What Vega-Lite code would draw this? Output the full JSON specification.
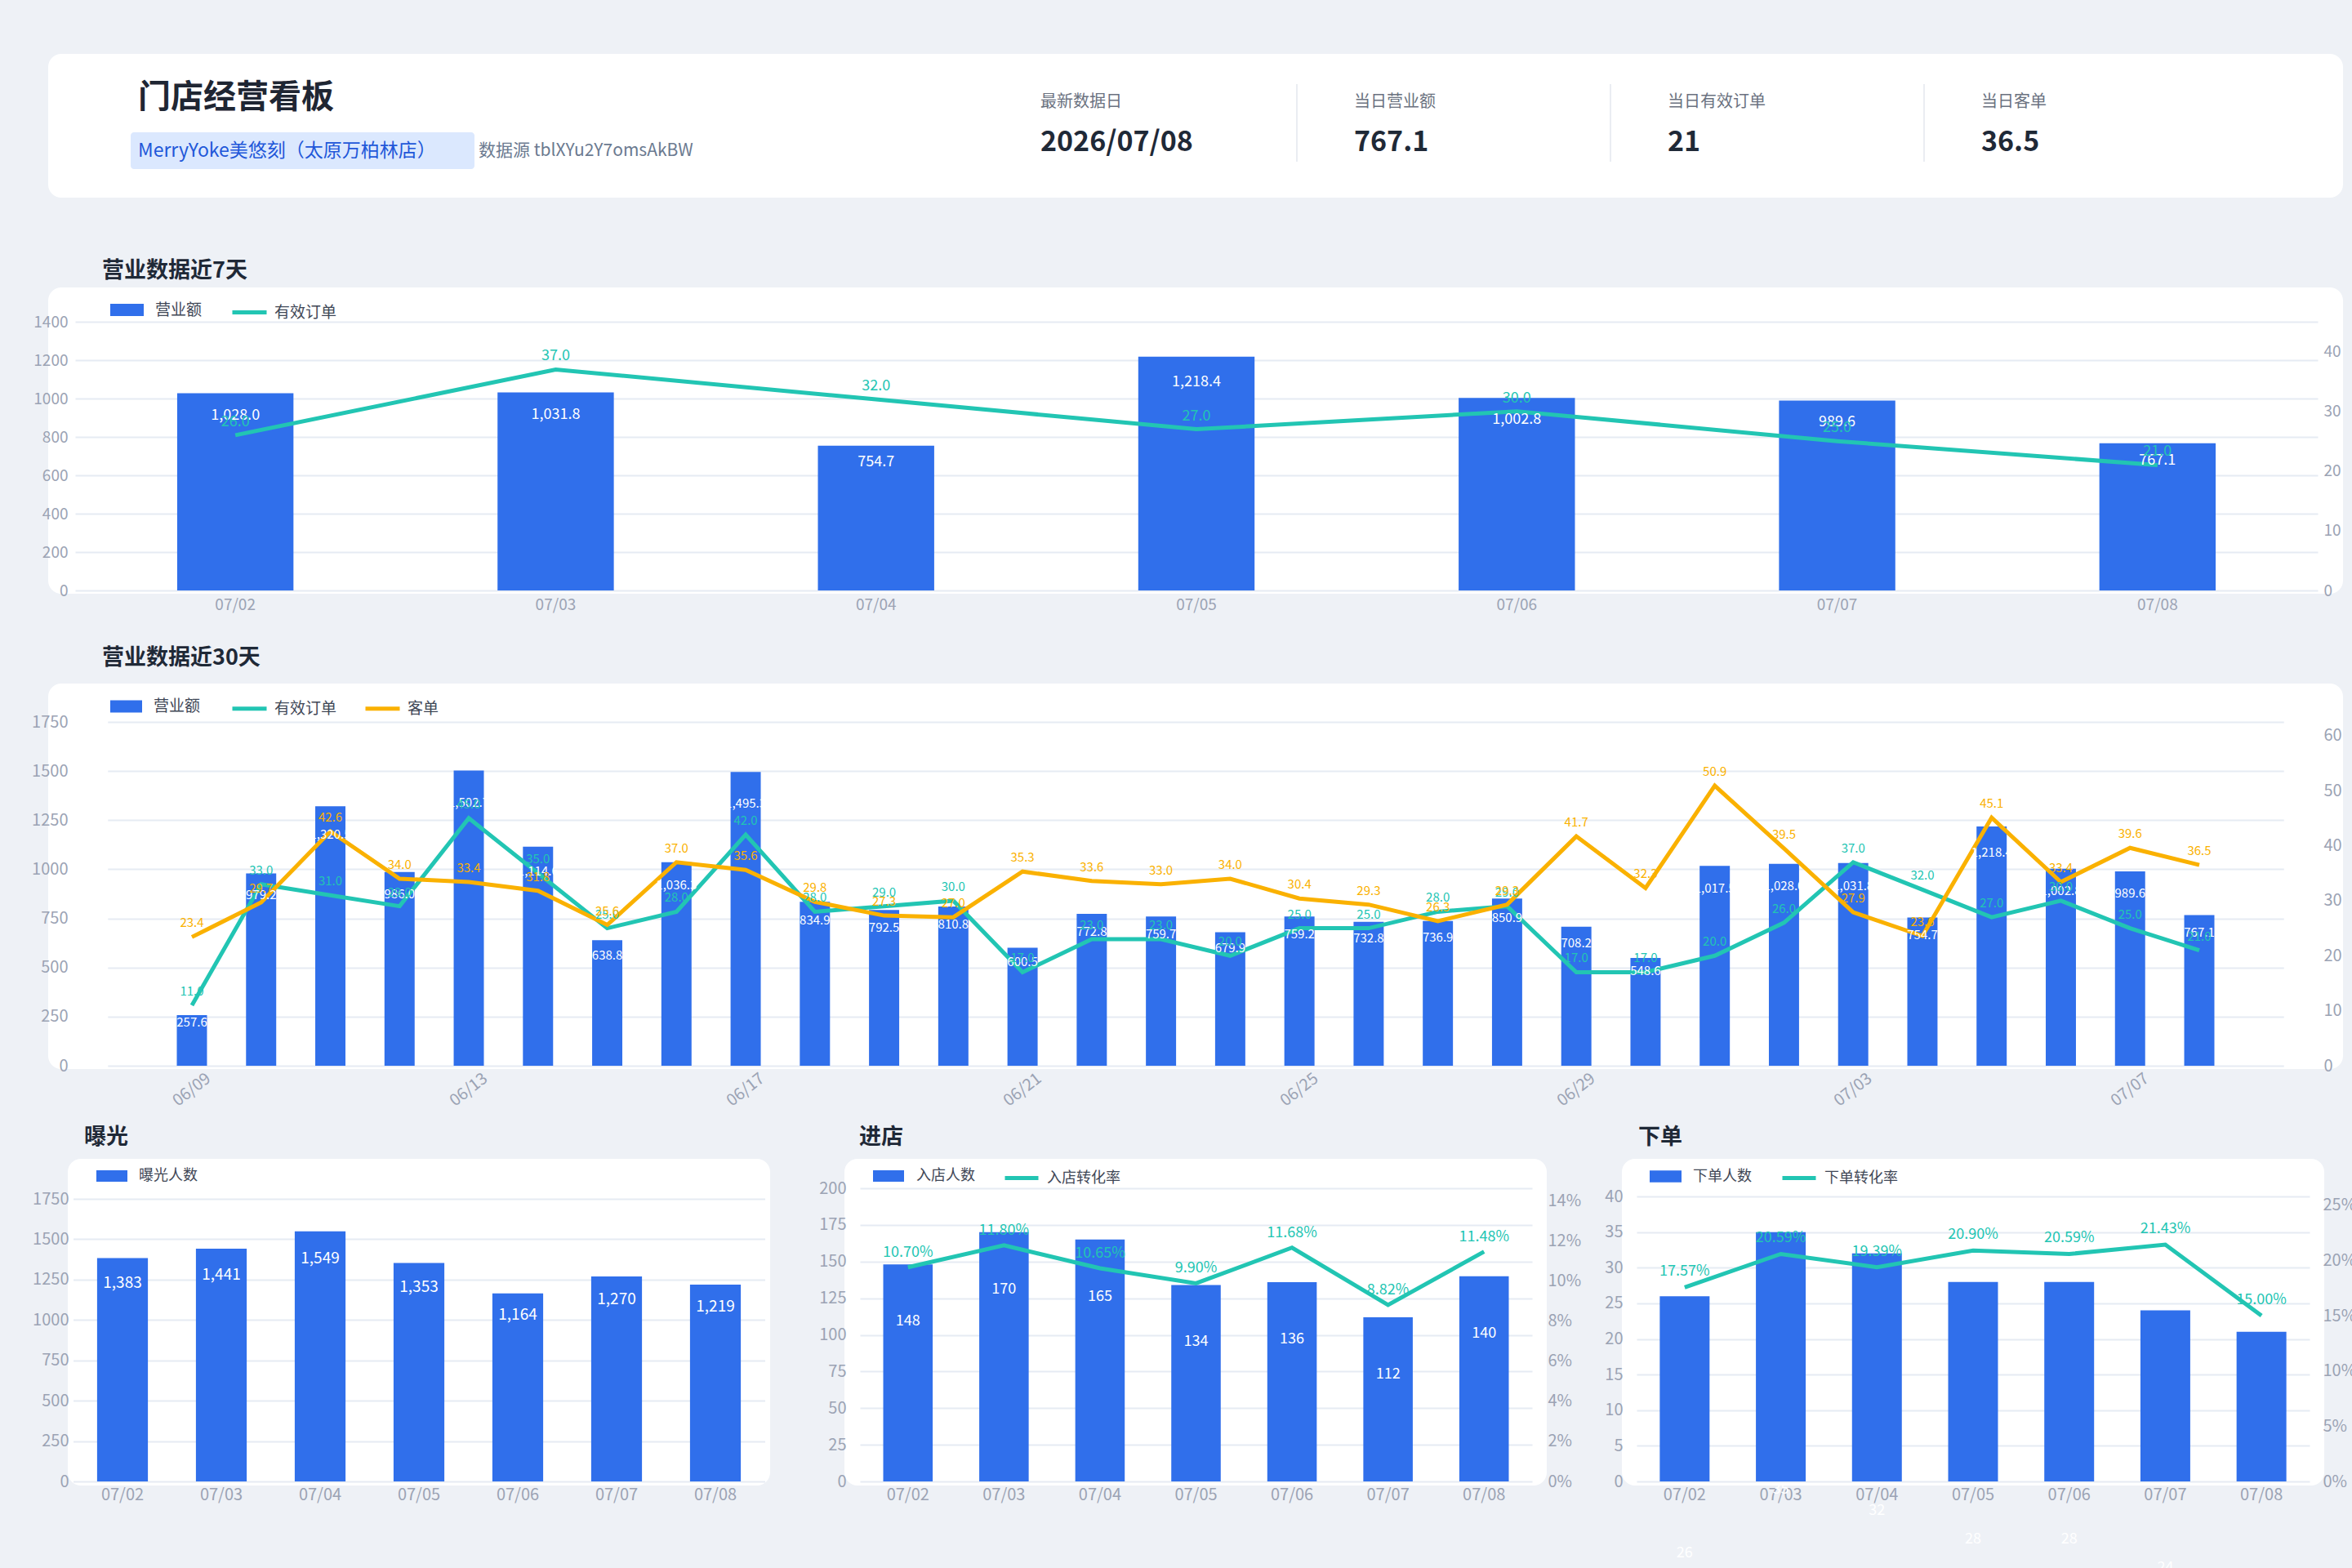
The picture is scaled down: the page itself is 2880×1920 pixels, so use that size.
{
  "$schema": "https://vega.github.io/schema/vega-lite/v6.json",
  "background": "#eef1f6",
  "padding": {"left": 38, "top": 66, "right": 0, "bottom": 0},
  "bounds": "flush",
  "spacing": 110,
  "resolve": {"scale": {"fill": "independent", "stroke": "independent"}, "legend": {"fill": "independent", "stroke": "independent"}},
  "config": {
    "font": "Noto Sans CJK SC",
    "view": {"stroke": null},
    "axis": {"labelFont": "Noto Sans CJK SC", "labelColor": "#9ba3b4", "domain": false, "ticks": false, "gridColor": "#e6ebf3", "gridWidth": 2, "labelOverlap": false},
    "legend": {"padding": 0, "labelFont": "Noto Sans CJK SC", "labelColor": "#3f4756", "labelFontSize": 19},
    "title": {"font": "Noto Sans CJK SC", "fontWeight": "bold", "color": "#1f2937", "anchor": "start", "frame": "group", "fontSize": 27},
    "text": {"font": "Noto Sans CJK SC"}
  },
  "vconcat": [
    {
      "width": 2810, "height": 176,
      "view": {"fill": "#ffffff", "stroke": null, "cornerRadius": 16},
      "layer": [
        {
          "data": {"values": [
            {"block": "name", "line": "top", "text": "门店经营看板"},
            {"block": "name", "line": "bottom", "text": "MerryYoke美悠刻（太原万柏林店）"},
            {"block": "source", "line": "bottom", "text": "数据源 tblXYu2Y7omsAkBW"}
          ]},
          "encoding": {
            "x": {"field": "block", "type": "nominal", "scale": {"type": "point", "domain": ["name", "source"], "range": [110, 527], "padding": 0}, "axis": null},
            "y": {"field": "line", "type": "nominal", "scale": {"type": "point", "domain": ["top", "bottom"], "range": [59, 109], "padding": 0}, "axis": null}
          },
          "layer": [
            {"transform": [{"filter": "datum.block === 'name' && datum.line === 'bottom'"}],
             "mark": {"type": "rect", "fill": "#dbe8fe", "cornerRadius": 4, "xOffset": -9, "x2Offset": -5, "yOffset": -13, "y2Offset": 32},
             "encoding": {"x2": {"datum": "source"}, "y2": {"datum": "bottom"}}},
            {"transform": [{"filter": "datum.line === 'top'"}],
             "mark": {"type": "text", "align": "left", "baseline": "middle", "fontSize": 40, "fontWeight": "bold", "fill": "#1f2633", "dy": -5},
             "encoding": {"text": {"field": "text"}}},
            {"transform": [{"filter": "datum.block === 'name' && datum.line === 'bottom'"}],
             "mark": {"type": "text", "align": "left", "baseline": "middle", "fontSize": 23, "fill": "#2157d9", "dy": 10},
             "encoding": {"text": {"field": "text"}}},
            {"transform": [{"filter": "datum.block === 'source'"}],
             "mark": {"type": "text", "align": "left", "baseline": "middle", "fontSize": 21, "fill": "#6b7a90", "dy": 10},
             "encoding": {"text": {"field": "text"}}}
          ]
        },
        {
          "data": {"values": [
            {"kpi": "最新数据日", "value": "2026/07/08"},
            {"kpi": "当日营业额", "value": "767.1"},
            {"kpi": "当日有效订单", "value": "21"},
            {"kpi": "当日客单", "value": "36.5"}
          ]},
          "encoding": {
            "x": {"field": "kpi", "type": "nominal", "sort": null, "scale": {"type": "point", "domain": ["最新数据日", "当日营业额", "当日有效订单", "当日客单"], "range": [1215, 2367], "padding": 0}, "axis": null}
          },
          "layer": [
            {"transform": [{"filter": "datum.kpi !== '最新数据日'"}],
             "mark": {"type": "rule", "stroke": "#e3e7ee", "strokeWidth": 1.5, "xOffset": -70, "yOffset": -22, "y2Offset": 23},
             "encoding": {"y": {"datum": "top", "type": "nominal", "scale": {"type": "point", "domain": ["top", "bottom"], "range": [59, 109], "padding": 0}, "axis": null}, "y2": {"datum": "bottom"}}},
            {"mark": {"type": "text", "align": "left", "baseline": "middle", "fontSize": 20, "fill": "#6b7280"},
             "encoding": {"y": {"datum": "top", "type": "nominal", "scale": {"type": "point", "domain": ["top", "bottom"], "range": [59, 109], "padding": 0}, "axis": null}, "text": {"field": "kpi"}}},
            {"mark": {"type": "text", "align": "left", "baseline": "middle", "fontSize": 34, "fontWeight": "bold", "fill": "#1f2937"},
             "encoding": {"y": {"datum": "bottom", "type": "nominal", "scale": {"type": "point", "domain": ["top", "bottom"], "range": [59, 109], "padding": 0}, "axis": null}, "text": {"field": "value"}}}
          ]
        }
      ],
      "resolve": {"scale": {"x": "independent"}}
    },
    {
      "width": 2810, "height": 375,
      "view": {"fill": "#ffffff", "stroke": null, "cornerRadius": 16},
      "title": {"text": "营业数据近7天", "dx": 66, "offset": 6.5},
      "data": {"values": [
        {"d": "07/02", "sales": 1028.0, "orders": 26},
        {"d": "07/03", "sales": 1031.8, "orders": 37},
        {"d": "07/04", "sales": 754.7, "orders": 32},
        {"d": "07/05", "sales": 1218.4, "orders": 27},
        {"d": "07/06", "sales": 1002.8, "orders": 30},
        {"d": "07/07", "sales": 989.6, "orders": 25},
        {"d": "07/08", "sales": 767.1, "orders": 21}
      ]},
      "encoding": {
        "x": {"field": "d", "type": "ordinal", "scale": {"range": [33, 2779], "paddingInner": 0.637, "paddingOuter": 0.3185}, "axis": {"title": null, "labelAngle": 0, "labelFontSize": 19, "labelPadding": 4, "grid": false}}
      },
      "layer": [
        {"mark": {"type": "bar"},
         "encoding": {
           "y": {"field": "sales", "type": "quantitative", "scale": {"domain": [0, 1400], "range": [371, 42], "nice": false}, "axis": {"title": null, "format": "d", "values": [0, 200, 400, 600, 800, 1000, 1200, 1400], "offset": -32, "labelPadding": 8, "labelFontSize": 19, "grid": true}},
           "fill": {"datum": "营业额", "type": "nominal", "scale": {"domain": ["营业额"], "range": ["#306feb"]}, "legend": {"orient": "none", "legendX": 76, "legendY": 7, "title": null, "symbolType": "M-1,-0.366H1V0.366H-1Z", "symbolSize": 1681, "symbolStrokeWidth": 0, "labelOffset": 14}}
         }},
        {"mark": {"type": "line", "strokeWidth": 5},
         "encoding": {
           "y": {"field": "orders", "type": "quantitative", "scale": {"domain": [0, 45], "range": [371, 42], "nice": false}, "axis": {"title": null, "orient": "right", "values": [0, 10, 20, 30, 40], "offset": -26, "labelPadding": 2, "labelFontSize": 19, "grid": false}},
           "stroke": {"datum": "有效订单", "type": "nominal", "scale": {"domain": ["有效订单"], "range": ["#22c5b3"]}, "legend": {"orient": "none", "legendX": 223, "legendY": 7, "title": null, "symbolType": "stroke", "symbolSize": 1764, "symbolStrokeWidth": 5, "labelOffset": 7}}
         }},
        {"mark": {"type": "text", "fill": "#ffffff", "fontSize": 18, "baseline": "middle", "dy": 3},
         "encoding": {
           "y": {"field": "sales", "type": "quantitative", "scale": {"domain": [0, 1555.6], "range": [371, 42], "nice": false}, "axis": null},
           "text": {"field": "sales", "type": "quantitative", "format": ",.1f"}
         }},
        {"mark": {"type": "text", "fill": "#22c5b3", "fontSize": 18, "baseline": "middle", "dy": -16},
         "encoding": {
           "y": {"field": "orders", "type": "quantitative", "scale": {"domain": [0, 45], "range": [371, 42], "nice": false}, "axis": null},
           "text": {"field": "orders", "type": "quantitative", "format": ".1f"}
         }}
      ],
      "resolve": {"scale": {"y": "independent"}}
    },
    {
      "width": 2810, "height": 472,
      "view": {"fill": "#ffffff", "stroke": null, "cornerRadius": 16},
      "title": {"text": "营业数据近30天", "dx": 66, "offset": 17.5},
      "data": {"values": [
        {"d": "06/09", "sales": 257.6, "orders": 11, "aov": 23.4},
        {"d": "06/10", "sales": 979.2, "orders": 33, "aov": 29.7},
        {"d": "06/11", "sales": 1320.5, "orders": 31, "aov": 42.6},
        {"d": "06/12", "sales": 986.0, "orders": 29, "aov": 34.0},
        {"d": "06/13", "sales": 1502.7, "orders": 45, "aov": 33.4},
        {"d": "06/14", "sales": 1114.6, "orders": 35, "aov": 31.8},
        {"d": "06/15", "sales": 638.8, "orders": 25, "aov": 25.6},
        {"d": "06/16", "sales": 1036.3, "orders": 28, "aov": 37.0},
        {"d": "06/17", "sales": 1495.3, "orders": 42, "aov": 35.6},
        {"d": "06/18", "sales": 834.9, "orders": 28, "aov": 29.8},
        {"d": "06/19", "sales": 792.5, "orders": 29, "aov": 27.3},
        {"d": "06/20", "sales": 810.8, "orders": 30, "aov": 27.0},
        {"d": "06/21", "sales": 600.5, "orders": 17, "aov": 35.3},
        {"d": "06/22", "sales": 772.8, "orders": 23, "aov": 33.6},
        {"d": "06/23", "sales": 759.7, "orders": 23, "aov": 33.0},
        {"d": "06/24", "sales": 679.9, "orders": 20, "aov": 34.0},
        {"d": "06/25", "sales": 759.2, "orders": 25, "aov": 30.4},
        {"d": "06/26", "sales": 732.8, "orders": 25, "aov": 29.3},
        {"d": "06/27", "sales": 736.9, "orders": 28, "aov": 26.3},
        {"d": "06/28", "sales": 850.9, "orders": 29, "aov": 29.3},
        {"d": "06/29", "sales": 708.2, "orders": 17, "aov": 41.7},
        {"d": "06/30", "sales": 548.6, "orders": 17, "aov": 32.3},
        {"d": "07/01", "sales": 1017.5, "orders": 20, "aov": 50.9},
        {"d": "07/02", "sales": 1028.0, "orders": 26, "aov": 39.5},
        {"d": "07/03", "sales": 1031.8, "orders": 37, "aov": 27.9},
        {"d": "07/04", "sales": 754.7, "orders": 32, "aov": 23.6},
        {"d": "07/05", "sales": 1218.4, "orders": 27, "aov": 45.1},
        {"d": "07/06", "sales": 1002.8, "orders": 30, "aov": 33.4},
        {"d": "07/07", "sales": 989.6, "orders": 25, "aov": 39.6},
        {"d": "07/08", "sales": 767.1, "orders": 21, "aov": 36.5}
      ]},
      "encoding": {
        "x": {"field": "d", "type": "ordinal", "scale": {"range": [72.75, 2737.25], "paddingInner": 0.564, "paddingOuter": 1}, "axis": {"title": null, "values": ["06/09", "06/13", "06/17", "06/21", "06/25", "06/29", "07/03", "07/07"], "labelAngle": -38, "labelAlign": "center", "labelBaseline": "middle", "labelPadding": 25, "labelFontSize": 20, "grid": false}}
      },
      "layer": [
        {"mark": {"type": "bar"},
         "encoding": {
           "y": {"field": "sales", "type": "quantitative", "scale": {"domain": [0, 1750], "range": [468, 47], "nice": false}, "axis": {"title": null, "format": "d", "values": [0, 250, 500, 750, 1000, 1250, 1500, 1750], "offset": -32, "labelPadding": 8, "labelFontSize": 20, "grid": true}},
           "fill": {"datum": "营业额", "type": "nominal", "scale": {"domain": ["营业额"], "range": ["#306feb"]}, "legend": {"orient": "none", "legendX": 76, "legendY": 8.5, "title": null, "symbolType": "M-1,-0.385H1V0.385H-1Z", "symbolSize": 1521, "symbolStrokeWidth": 0, "labelOffset": 14}}
         }},
        {"mark": {"type": "line", "strokeWidth": 5},
         "encoding": {
           "y": {"field": "orders", "type": "quantitative", "scale": {"domain": [0, 62.5], "range": [468, 47], "nice": false}, "axis": {"title": null, "orient": "right", "values": [0, 10, 20, 30, 40, 50, 60], "offset": -26, "labelPadding": 2, "labelFontSize": 20, "grid": false}},
           "stroke": {"datum": "有效订单", "type": "nominal", "scale": {"domain": ["有效订单", "客单"], "range": ["#22c5b3", "#fab100"]}, "legend": {"orient": "none", "legendX": 223, "legendY": 7, "title": null, "direction": "horizontal", "symbolType": "stroke", "symbolSize": 1764, "symbolStrokeWidth": 5, "labelOffset": 7, "columnPadding": 24}}
         }},
        {"mark": {"type": "line", "strokeWidth": 5},
         "encoding": {
           "y": {"field": "aov", "type": "quantitative", "scale": {"domain": [0, 62.5], "range": [468, 47], "nice": false}, "axis": null},
           "stroke": {"datum": "客单", "type": "nominal", "scale": {"domain": ["有效订单", "客单"], "range": ["#22c5b3", "#fab100"]}, "legend": {"orient": "none", "legendX": 223, "legendY": 7, "title": null, "direction": "horizontal", "symbolType": "stroke", "symbolSize": 1764, "symbolStrokeWidth": 5, "labelOffset": 7, "columnPadding": 24}}
         }},
        {"mark": {"type": "text", "fill": "#ffffff", "fontSize": 15, "baseline": "middle", "dy": 3},
         "encoding": {
           "y": {"field": "sales", "type": "quantitative", "scale": {"domain": [0, 1944.4], "range": [468, 47], "nice": false}, "axis": null},
           "text": {"field": "sales", "type": "quantitative", "format": ",.1f"}
         }},
        {"mark": {"type": "text", "fill": "#22c5b3", "fontSize": 15, "baseline": "middle", "dy": -17},
         "encoding": {
           "y": {"field": "orders", "type": "quantitative", "scale": {"domain": [0, 62.5], "range": [468, 47], "nice": false}, "axis": null},
           "text": {"field": "orders", "type": "quantitative", "format": ".1f"}
         }},
        {"mark": {"type": "text", "fill": "#fab100", "fontSize": 15, "baseline": "middle", "dy": -17},
         "encoding": {
           "y": {"field": "aov", "type": "quantitative", "scale": {"domain": [0, 62.5], "range": [468, 47], "nice": false}, "axis": null},
           "text": {"field": "aov", "type": "quantitative", "format": ".1f"}
         }}
      ],
      "resolve": {"scale": {"y": "independent"}}
    },
    {
      "bounds": "flush",
      "spacing": 0,
      "resolve": {"scale": {"fill": "independent", "stroke": "independent"}, "legend": {"fill": "independent", "stroke": "independent"}},
      "hconcat": [
        {"width": 24, "height": 400, "data": {"values": [{"s": 0}]}, "mark": {"type": "point", "opacity": 0}, "encoding": {}},
        {
          "width": 860, "height": 400,
          "view": {"fill": "#ffffff", "stroke": null, "cornerRadius": 16},
          "title": {"text": "曝光", "dx": 20, "offset": 12.5},
          "data": {"values": [
            {"d": "07/02", "v": 1383}, {"d": "07/03", "v": 1441}, {"d": "07/04", "v": 1549},
            {"d": "07/05", "v": 1353}, {"d": "07/06", "v": 1164}, {"d": "07/07", "v": 1270}, {"d": "07/08", "v": 1219}
          ]},
          "encoding": {
            "x": {"field": "d", "type": "ordinal", "scale": {"range": [6.5, 853.5], "paddingInner": 0.486, "paddingOuter": 0.243}, "axis": {"title": null, "labelAngle": 0, "labelFontSize": 20, "labelPadding": 1, "grid": false}}
          },
          "layer": [
            {"mark": {"type": "bar"},
             "encoding": {
               "y": {"field": "v", "type": "quantitative", "scale": {"domain": [0, 1750], "range": [395, 49], "nice": false}, "axis": {"title": null, "format": "d", "values": [0, 250, 500, 750, 1000, 1250, 1500, 1750], "offset": -9, "labelPadding": 8, "labelFontSize": 20, "grid": true}},
               "fill": {"datum": "曝光人数", "type": "nominal", "scale": {"domain": ["曝光人数"], "range": ["#306feb"]}, "legend": {"orient": "none", "legendX": 35, "legendY": 2, "title": null, "symbolType": "M-1,-0.368H1V0.368H-1Z", "symbolSize": 1444, "symbolStrokeWidth": 0, "labelOffset": 14, "labelFontSize": 18}}
             }},
            {"mark": {"type": "text", "fill": "#ffffff", "fontSize": 19, "baseline": "middle", "dy": 3},
             "encoding": {
               "y": {"field": "v", "type": "quantitative", "scale": {"domain": [0, 1944.4], "range": [395, 49], "nice": false}, "axis": null},
               "text": {"field": "v", "type": "quantitative", "format": ",d"}
             }}
          ],
          "resolve": {"scale": {"y": "independent"}}
        },
        {"width": 91, "height": 400, "data": {"values": [{"s": 0}]}, "mark": {"type": "point", "opacity": 0}, "encoding": {}},
        {
          "width": 860, "height": 400,
          "view": {"fill": "#ffffff", "stroke": null, "cornerRadius": 16},
          "title": {"text": "进店", "dx": 18, "offset": 12.5},
          "data": {"values": [
            {"d": "07/02", "n": 148, "r": 0.1070}, {"d": "07/03", "n": 170, "r": 0.1180}, {"d": "07/04", "n": 165, "r": 0.1065},
            {"d": "07/05", "n": 134, "r": 0.0990}, {"d": "07/06", "n": 136, "r": 0.1168}, {"d": "07/07", "n": 112, "r": 0.0882}, {"d": "07/08", "n": 140, "r": 0.1148}
          ]},
          "encoding": {
            "x": {"field": "d", "type": "ordinal", "scale": {"range": [19, 842], "paddingInner": 0.485, "paddingOuter": 0.2425}, "axis": {"title": null, "labelAngle": 0, "labelFontSize": 20, "labelPadding": 1, "grid": false}}
          },
          "layer": [
            {"mark": {"type": "bar"},
             "encoding": {
               "y": {"field": "n", "type": "quantitative", "scale": {"domain": [0, 200], "range": [395, 36], "nice": false}, "axis": {"title": null, "format": "d", "values": [0, 25, 50, 75, 100, 125, 150, 175, 200], "offset": -10, "labelPadding": 8, "labelFontSize": 20, "grid": true}},
               "fill": {"datum": "入店人数", "type": "nominal", "scale": {"domain": ["入店人数"], "range": ["#306feb"]}, "legend": {"orient": "none", "legendX": 35, "legendY": 2, "title": null, "symbolType": "M-1,-0.368H1V0.368H-1Z", "symbolSize": 1444, "symbolStrokeWidth": 0, "labelOffset": 15, "labelFontSize": 18}}
             }},
            {"mark": {"type": "line", "strokeWidth": 5},
             "encoding": {
               "y": {"field": "r", "type": "quantitative", "scale": {"domain": [0, 0.1465], "range": [395, 36], "nice": false}, "axis": {"title": null, "orient": "right", "values": [0, 0.02, 0.04, 0.06, 0.08, 0.1, 0.12, 0.14], "format": ".0%", "offset": 0, "labelPadding": 1, "labelFontSize": 20, "grid": false}},
               "stroke": {"datum": "入店转化率", "type": "nominal", "scale": {"domain": ["入店转化率"], "range": ["#22c5b3"]}, "legend": {"orient": "none", "legendX": 194, "legendY": 0.5, "title": null, "symbolType": "stroke", "symbolSize": 1681, "symbolStrokeWidth": 5, "labelOffset": 8, "labelFontSize": 18}}
             }},
            {"mark": {"type": "text", "fill": "#ffffff", "fontSize": 18, "baseline": "middle", "dy": 70},
             "encoding": {
               "y": {"field": "n", "type": "quantitative", "scale": {"domain": [0, 200], "range": [395, 36], "nice": false}, "axis": null},
               "text": {"field": "n", "type": "quantitative", "format": "d"}
             }},
            {"mark": {"type": "text", "fill": "#22c5b3", "fontSize": 18, "baseline": "middle", "dy": -18},
             "encoding": {
               "y": {"field": "r", "type": "quantitative", "scale": {"domain": [0, 0.1465], "range": [395, 36], "nice": false}, "axis": null},
               "text": {"field": "r", "type": "quantitative", "format": ".2%"}
             }}
          ],
          "resolve": {"scale": {"y": "independent"}}
        },
        {"width": 92, "height": 400, "data": {"values": [{"s": 0}]}, "mark": {"type": "point", "opacity": 0}, "encoding": {}},
        {
          "width": 860, "height": 400,
          "view": {"fill": "#ffffff", "stroke": null, "cornerRadius": 16},
          "title": {"text": "下单", "dx": 20, "offset": 12.5},
          "data": {"values": [
            {"d": "07/02", "n": 26, "r": 0.1757}, {"d": "07/03", "n": 35, "r": 0.2059}, {"d": "07/04", "n": 32, "r": 0.1939},
            {"d": "07/05", "n": 28, "r": 0.2090}, {"d": "07/06", "n": 28, "r": 0.2059}, {"d": "07/07", "n": 24, "r": 0.2143}, {"d": "07/08", "n": 21, "r": 0.1500}
          ]},
          "encoding": {
            "x": {"field": "d", "type": "ordinal", "scale": {"range": [18, 842], "paddingInner": 0.482, "paddingOuter": 0.241}, "axis": {"title": null, "labelAngle": 0, "labelFontSize": 20, "labelPadding": 1, "grid": false}}
          },
          "layer": [
            {"mark": {"type": "bar"},
             "encoding": {
               "y": {"field": "n", "type": "quantitative", "scale": {"domain": [0, 40], "range": [395, 46], "nice": false}, "axis": {"title": null, "format": "d", "values": [0, 5, 10, 15, 20, 25, 30, 35, 40], "offset": -8, "labelPadding": 7, "labelFontSize": 20, "grid": true}},
               "fill": {"datum": "下单人数", "type": "nominal", "scale": {"domain": ["下单人数"], "range": ["#306feb"]}, "legend": {"orient": "none", "legendX": 34, "legendY": 2, "title": null, "symbolType": "M-1,-0.368H1V0.368H-1Z", "symbolSize": 1521, "symbolStrokeWidth": 0, "labelOffset": 14, "labelFontSize": 18}}
             }},
            {"mark": {"type": "line", "strokeWidth": 5},
             "encoding": {
               "y": {"field": "r", "type": "quantitative", "scale": {"domain": [0, 0.258], "range": [395, 46], "nice": false}, "axis": {"title": null, "orient": "right", "values": [0, 0.05, 0.1, 0.15, 0.2, 0.25], "format": ".0%", "offset": -2, "labelPadding": 0, "labelFontSize": 20, "grid": false}},
               "stroke": {"datum": "下单转化率", "type": "nominal", "scale": {"domain": ["下单转化率"], "range": ["#22c5b3"]}, "legend": {"orient": "none", "legendX": 194, "legendY": 0.5, "title": null, "symbolType": "stroke", "symbolSize": 1681, "symbolStrokeWidth": 5, "labelOffset": 8, "labelFontSize": 18}}
             }},
            {"mark": {"type": "text", "fill": "#ffffff", "fontSize": 18, "baseline": "middle", "dy": 315},
             "encoding": {
               "y": {"field": "n", "type": "quantitative", "scale": {"domain": [0, 40], "range": [395, 46], "nice": false}, "axis": null},
               "text": {"field": "n", "type": "quantitative", "format": "d"}
             }},
            {"mark": {"type": "text", "fill": "#22c5b3", "fontSize": 18, "baseline": "middle", "dy": -19},
             "encoding": {
               "y": {"field": "r", "type": "quantitative", "scale": {"domain": [0, 0.258], "range": [395, 46], "nice": false}, "axis": null},
               "text": {"field": "r", "type": "quantitative", "format": ".2%"}
             }}
          ],
          "resolve": {"scale": {"y": "independent"}}
        }
      ]
    }
  ]
}
